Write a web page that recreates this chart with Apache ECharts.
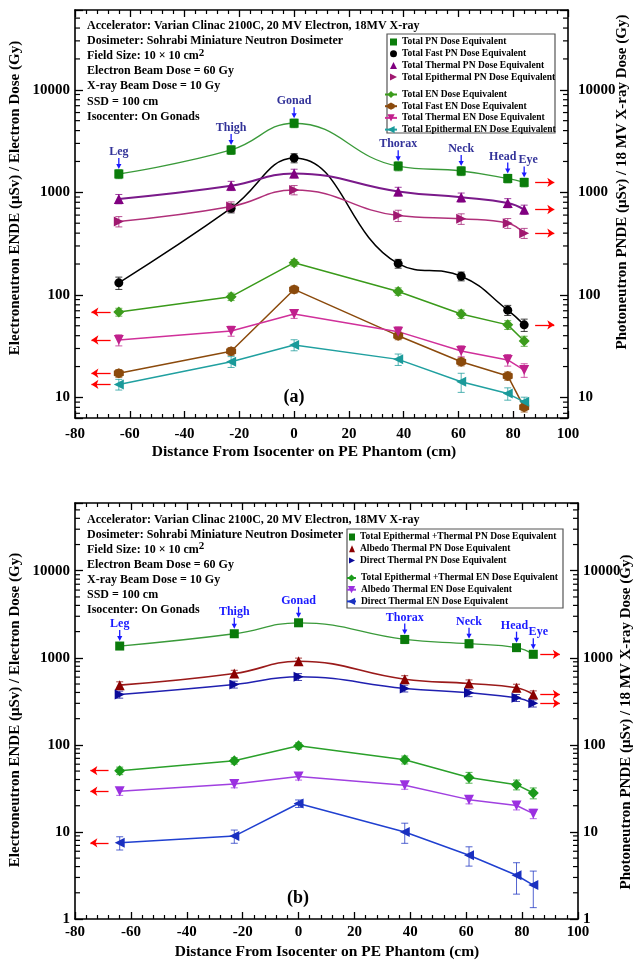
<!DOCTYPE html>
<html>
<head>
<meta charset="utf-8">
<script src="https://cdn.jsdelivr.net/npm/echarts@6/dist/echarts.min.js"></script>
<style>
html, body { margin: 0; padding: 0; background: #fff; }
#chart { width: 634px; height: 961px; }
</style>
</head>
<body>
<div id="chart"></div>
<script>
const FONT = '"Liberation Serif", "Times New Roman", serif'

// positions on the phantom (cm) and organ names
const positions = [-64, -23, 0, 38, 61, 78, 84]
const organs = ['Leg', 'Thigh', 'Gonad', 'Thorax', 'Neck', 'Head', 'Eye']
const xRange = [-80, 100]
const yRanges = [[6.3, 60000], [1, 60000]]

// panel (a)
const totalPN = [1510, 2590, 4720, 1800, 1615, 1366, 1250]
const totalPNErr = [150, 250, 450, 180, 160, 130, 120]
const fastPN = [131, 700, 2160, 202, 152, 71, 51]
const fastPNErr = [18, 70, 220, 20, 15, 8, 7]
const thermalPN = [863, 1160, 1530, 1020, 894, 788, 680]
const thermalPNErr = [90, 120, 150, 100, 90, 80, 70]
const epiPN = [520, 727, 1055, 594, 552, 500, 400]
const epiPNErr = [60, 80, 110, 75, 65, 55, 45]
const totalEN = [68, 96, 206, 108, 65, 51, 35.5]
const totalENErr = [6, 8, 15, 9, 6, 5, 4]
const fastEN = [17.2, 28.2, 113, 40, 22.3, 16.2, 8.0]
const fastENErr = [1.5, 2.5, 9, 3.5, 2, 1.5, 0.8]
const thermalEN = [36.3, 44.5, 65, 43.8, 28.4, 23.2, 18.5]
const thermalENErr = [4.5, 5, 6, 5, 3.5, 3, 2.8]
const epiEN = [13.4, 22.3, 32.5, 23.5, 14.2, 10.9, 9.05]
const epiENErr = [1.6, 2.7, 4, 3, 3, 1.5, 1]

// panel (b)
const epiThPN = [1365, 1890, 2525, 1626, 1452, 1308, 1097]
const epiThPNErr = [110, 150, 200, 170, 150, 100, 90]
const albedoPN = [485, 659, 912, 568, 507, 452, 379]
const albedoPNErr = [45, 60, 80, 55, 50, 45, 38]
const directPN = [379, 494, 604, 445, 396, 347, 300]
const directPNErr = [35, 45, 55, 40, 38, 32, 28]
const epiThEN = [50.5, 65.6, 97.5, 67.4, 42.3, 34.9, 28]
const epiThENErr = [5, 5.5, 8, 7, 6, 4.5, 4]
const albedoEN = [29.3, 35.6, 43.4, 34.4, 23.5, 20.1, 16.2]
const albedoENErr = [3, 3.5, 4, 3.5, 2.5, 2.2, 2]
const directEN = [7.5, 8.96, 21.2, 10.0, 5.4, 3.18, 2.45]
const directENErr = [1.3, 1.55, 2.1, 2.6, 1.35, 1.25, 1.1]

// log minor tick multipliers and decades
const minorMult = [2, 3, 4, 5, 6, 7, 8, 9]
const decades = [1, 10, 100, 1000, 10000]

const infoLines = [
    'Accelerator: Varian Clinac 2100C, 20 MV Electron, 18MV X-ray',
    'Dosimeter: Sohrabi Miniature Neutron Dosimeter',
    'Field Size: 10 × 10 cm{s|2}',
    'Electron Beam Dose = 60 Gy',
    'X-ray Beam Dose = 10 Gy',
    'SSD = 100 cm',
    'Isocenter: On Gonads',
]

const SYM = {
    right: 'path://M0,0L10,5L0,10Z',
    left: 'path://M10,0L0,5L10,10Z',
    down: 'path://M0,0L10,0L5,10Z',
    hex: 'path://M5,0L9.33,2.5L9.33,7.5L5,10L0.67,7.5L0.67,2.5Z',
}

const panelA = [
    { name: 'Total PN Dose Equivalent', values: totalPN, err: totalPNErr, symbol: 'rect', size: 9, color: '#0b7d0b', line: '#3a9a3a', width: 1.3, smooth: true, arrow: 'right', icon: 'rect' },
    { name: 'Total Fast PN Dose Equivalent', values: fastPN, err: fastPNErr, symbol: 'circle', size: 9, color: '#000000', line: '#000000', width: 1.5, smooth: true, arrow: 'right', icon: 'circle' },
    { name: 'Total Thermal PN Dose Equivalent', values: thermalPN, err: thermalPNErr, symbol: 'triangle', size: 10, color: '#800080', line: '#7a1a8a', width: 2, smooth: true, arrow: 'right', icon: 'triangle' },
    { name: 'Total Epithermal PN Dose Equivalent', values: epiPN, err: epiPNErr, symbol: SYM.right, size: 10, color: '#a01870', line: '#b0307a', width: 1.5, smooth: true, arrow: 'right', icon: SYM.right },
    { name: 'Total EN Dose Equivalent', values: totalEN, err: totalENErr, symbol: 'diamond', size: 11, color: '#3c9c1c', line: '#3a9a1a', width: 1.5, smooth: false, arrow: 'left' },
    { name: 'Total Fast EN Dose Equivalent', values: fastEN, err: fastENErr, symbol: SYM.hex, size: 10, color: '#8b4a0c', line: '#8b4a0c', width: 1.5, smooth: false, arrow: 'left' },
    { name: 'Total Thermal EN Dose Equivalent', values: thermalEN, err: thermalENErr, symbol: SYM.down, size: 10, color: '#c0208c', line: '#d0309a', width: 1.5, smooth: false, arrow: 'left' },
    { name: 'Total Epithermal EN Dose Equivalent', values: epiEN, err: epiENErr, symbol: SYM.left, size: 10, color: '#1a9a9a', line: '#20a0a0', width: 1.5, smooth: false, arrow: 'left' },
]

const panelB = [
    { name: 'Total Epithermal +Thermal PN Dose Equivalent', values: epiThPN, err: epiThPNErr, symbol: 'rect', size: 9, color: '#0a7a0a', line: '#3a9a3a', width: 1.3, smooth: true, arrow: 'right', icon: 'rect' },
    { name: 'Albedo Thermal PN Dose Equivalent', values: albedoPN, err: albedoPNErr, symbol: 'triangle', size: 10, color: '#8b0000', line: '#9a1a1a', width: 1.6, smooth: true, arrow: 'right', icon: 'triangle' },
    { name: 'Direct Thermal PN Dose Equivalent', values: directPN, err: directPNErr, symbol: SYM.right, size: 10, color: '#0a0a9a', line: '#2020b0', width: 1.5, smooth: true, arrow: 'right', icon: SYM.right },
    { name: 'Total Epithermal +Thermal EN Dose Equivalent', values: epiThEN, err: epiThENErr, symbol: 'diamond', size: 11, color: '#1a9a1a', line: '#2aa02a', width: 1.5, smooth: false, arrow: 'left' },
    { name: 'Albedo Thermal EN Dose Equivalent', values: albedoEN, err: albedoENErr, symbol: SYM.down, size: 10, color: '#9b30e0', line: '#a040e0', width: 1.5, smooth: false, arrow: 'left' },
    { name: 'Direct Thermal EN Dose Equivalent', values: directEN, err: directENErr, symbol: SYM.left, size: 10, color: '#1a30c0', line: '#2040d0', width: 1.5, smooth: false, arrow: 'left' },
]

// red arrow extents (cm) per panel
const arrowX = [
    { right: [88, 95], left: [-67, -74] },
    { right: [86.5, 93.5], left: [-68, -74.5] },
]
// small horizontal nudges of organ labels (px), so Head / Eye do not collide
const organDx = [
    [0, 0, 0, 0, 0, -5, 4],
    [0, 0, 0, 0, 0, -2, 5],
]

function errorRender(color) {
    return function (params, api) {
        const lo = api.coord([api.value(0), api.value(1)])
        const hi = api.coord([api.value(0), api.value(2)])
        const w = 3.5
        const st = { stroke: color, lineWidth: 1, opacity: 0.75 }
        return {
            type: 'group',
            children: [
                { type: 'line', shape: { x1: lo[0], y1: lo[1], x2: hi[0], y2: hi[1] }, style: st },
                { type: 'line', shape: { x1: lo[0] - w, y1: lo[1], x2: lo[0] + w, y2: lo[1] }, style: st },
                { type: 'line', shape: { x1: hi[0] - w, y1: hi[1], x2: hi[0] + w, y2: hi[1] }, style: st },
            ],
        }
    }
}

function organRender(grid, textColor, arrowColor) {
    return function (params, api) {
        const p = api.coord([api.value(0), api.value(1)])
        const x = p[0], y = p[1]
        const dx = organDx[grid][params.dataIndex]
        return {
            type: 'group',
            children: [
                {
                    type: 'text',
                    style: {
                        text: organs[params.dataIndex], x: x + dx, y: y - 22,
                        align: 'center', verticalAlign: 'middle',
                        fill: textColor, font: 'bold 12px ' + FONT,
                    },
                },
                { type: 'line', shape: { x1: x, y1: y - 16, x2: x, y2: y - 9 }, style: { stroke: arrowColor, lineWidth: 1.3 } },
                { type: 'polygon', shape: { points: [[x - 2.6, y - 10], [x + 2.6, y - 10], [x, y - 5]] }, style: { fill: arrowColor } },
            ],
        }
    }
}

function buildSeries(list, grid) {
    const out = []
    list.forEach(d => {
        const ax = arrowX[grid]
        let markLine
        if (d.arrow) {
            const v = d.arrow === 'right' ? d.values[d.values.length - 1] : d.values[0]
            const xs = ax[d.arrow]
            markLine = {
                silent: true,
                symbol: ['none', 'arrow'],
                symbolSize: 7,
                label: { show: false },
                lineStyle: { color: '#ff0000', width: 1.3, type: 'solid' },
                data: [[{ coord: [xs[0], v] }, { coord: [xs[1], v] }]],
            }
        }
        out.push({
            type: 'custom',
            xAxisIndex: grid * 2,
            yAxisIndex: grid * 2,
            silent: true,
            z: 2,
            encode: { x: 0, y: [1, 2] },
            data: positions.map((x, i) => [x, d.values[i] - d.err[i], d.values[i] + d.err[i]]),
            renderItem: errorRender(d.color),
        })
        out.push({
            type: 'line',
            name: d.name,
            xAxisIndex: grid * 2,
            yAxisIndex: grid * 2,
            data: positions.map((x, i) => [x, d.values[i]]),
            symbol: d.symbol,
            symbolSize: d.size,
            smooth: d.smooth ? 0.45 : false,
            showAllSymbol: true,
            itemStyle: { color: d.color },
            lineStyle: { color: d.line, width: d.width },
            z: 3,
            markLine: markLine,
        })
    })
    out.push({
        type: 'custom',
        xAxisIndex: grid * 2,
        yAxisIndex: grid * 2,
        silent: true,
        z: 5,
        data: positions.map((x, i) => [x, list[0].values[i]]),
        renderItem: grid === 0 ? organRender(0, '#333399', '#1a1aff') : organRender(1, '#1a1aff', '#1a1aff'),
    })
    return out
}

function xAxisCfg(grid, pos, labelMargin) {
    return {
        type: 'value', gridIndex: grid, position: pos,
        min: xRange[0], max: xRange[1], interval: 20,
        axisLine: { onZero: false, lineStyle: { color: '#000', width: 1.6 } },
        axisTick: { inside: true, length: 7, lineStyle: { color: '#000', width: 1.3 } },
        minorTick: { show: true, splitNumber: 5, length: 4, lineStyle: { color: '#000', width: 1.2 } },
        splitLine: { show: false },
        axisLabel: {
            show: pos === 'bottom', margin: labelMargin, color: '#000',
            fontFamily: FONT, fontWeight: 'bold', fontSize: 15,
        },
    }
}

function yAxisCfg(grid, pos, margin) {
    return {
        type: 'log', logBase: 10, gridIndex: grid, position: pos,
        min: yRanges[grid][0], max: yRanges[grid][1],
        axisLine: { onZero: false, lineStyle: { color: '#000', width: 1.6 } },
        axisTick: { inside: true, length: 8, lineStyle: { color: '#000', width: 1.3 } },
        minorTick: { show: false },
        splitLine: { show: false },
        axisLabel: {
            margin: margin, color: '#000', fontFamily: FONT, fontWeight: 'bold', fontSize: 15,
            formatter: v => {
                const e = Math.log10(v)
                return Math.abs(e - Math.round(e)) < 1e-6 ? String(Math.round(v)) : ''
            },
        },
    }
}

function legendCfg(list, left, top, withIcon, itemWidth) {
    return {
        orient: 'vertical', left: left, top: top,
        itemWidth: itemWidth, itemHeight: withIcon ? 7 : 9, itemGap: 1.7,
        selectedMode: false, padding: 0,
        textStyle: { fontFamily: FONT, fontWeight: 'bold', fontSize: 9.5, color: '#000', lineHeight: 9 },
        data: list.map(d => (withIcon ? { name: d.name, icon: d.icon } : { name: d.name })),
    }
}

function textEl(x, y, text, size) {
    return {
        type: 'text', x: x, y: y, silent: true,
        style: {
            text: text, fill: '#000', fontFamily: FONT, fontWeight: 'bold', fontSize: size,
            align: 'left', verticalAlign: 'middle',
            rich: { s: { fontFamily: FONT, fontWeight: 'bold', fontSize: 11, padding: [0, 0, 7, 0] } },
        },
    }
}

function centerEl(x, y, text, size, rotate) {
    return {
        type: 'text', x: x, y: y, rotation: rotate ? Math.PI / 2 : 0, silent: true,
        style: { text: text, fill: '#000', fontFamily: FONT, fontWeight: 'bold', fontSize: size, align: 'center', verticalAlign: 'middle' },
    }
}

const graphics = []
infoLines.forEach((t, i) => {
    graphics.push(textEl(87, 26 + i * 15.1, t, 12))
    graphics.push(textEl(87, 519.5 + i * 15.1, t, 12))
})
graphics.push({ type: 'rect', silent: true, shape: { x: 387, y: 34, width: 168, height: 99 }, style: { fill: 'none', stroke: '#555', lineWidth: 1.2 } })
graphics.push({ type: 'rect', silent: true, shape: { x: 347, y: 529, width: 216, height: 79 }, style: { fill: 'none', stroke: '#555', lineWidth: 1.2 } })
graphics.push(centerEl(294, 397, '(a)', 18, false))
graphics.push(centerEl(298, 898, '(b)', 18, false))
graphics.push(centerEl(15, 198, 'Electroneutron ENDE (μSv) / Electron Dose (Gy)', 15, true))
graphics.push(centerEl(622, 182, 'Photoneutron PNDE (μSv) / 18 MV X-ray Dose (Gy)', 15, true))
graphics.push(centerEl(304, 452, 'Distance From Isocenter on PE Phantom (cm)', 15.5, false))
graphics.push(centerEl(15, 710, 'Electroneutron ENDE (μSv) / Electron Dose (Gy)', 15, true))
graphics.push(centerEl(626, 722, 'Photoneutron PNDE (μSv) / 18 MV X-ray Dose (Gy)', 15, true))
graphics.push(centerEl(327, 952, 'Distance From Isocenter on PE Phantom (cm)', 15.5, false))

const chart = echarts.init(document.getElementById('chart'))
chart.setOption({
    animation: false,
    backgroundColor: '#fff',
    grid: [
        { left: 75, top: 10, width: 493, height: 408 },
        { left: 75, top: 503, width: 503, height: 416 },
    ],
    xAxis: [
        xAxisCfg(0, 'bottom', 9),
        xAxisCfg(0, 'top', 8),
        xAxisCfg(1, 'bottom', 6),
        xAxisCfg(1, 'top', 8),
    ],
    yAxis: [
        yAxisCfg(0, 'left', 5),
        yAxisCfg(0, 'right', 10),
        yAxisCfg(1, 'left', 5),
        yAxisCfg(1, 'right', 5),
    ],
    legend: [
        legendCfg(panelA.slice(0, 4), 390, 37, true, 7),
        legendCfg(panelA.slice(4), 384, 89.5, false, 12),
        legendCfg(panelB.slice(0, 3), 349, 532, true, 6),
        legendCfg(panelB.slice(3), 346, 573, false, 9),
    ],
    graphic: graphics,
    series: buildSeries(panelA, 0).concat(buildSeries(panelB, 1)),
})

// log minor ticks at 2..9 x 10^n, placed through the chart's own axis scales
const tickEls = []
yRanges.forEach((yr, grid) => {
    decades.forEach(d => minorMult.forEach(m => {
        const v = d * m
        if (v <= yr[0] || v >= yr[1]) return
        const l = chart.convertToPixel({ xAxisIndex: grid * 2, yAxisIndex: grid * 2 }, [xRange[0], v])
        const r = chart.convertToPixel({ xAxisIndex: grid * 2, yAxisIndex: grid * 2 }, [xRange[1], v])
        if (!l || !r) return
        tickEls.push({ type: 'line', silent: true, z: 10, shape: { x1: l[0], y1: l[1], x2: l[0] + 5, y2: l[1] }, style: { stroke: '#000', lineWidth: 1.2 } })
        tickEls.push({ type: 'line', silent: true, z: 10, shape: { x1: r[0] - 5, y1: r[1], x2: r[0], y2: r[1] }, style: { stroke: '#000', lineWidth: 1.2 } })
    }))
})
chart.setOption({ graphic: graphics.concat(tickEls) })
</script>
</body>
</html>
